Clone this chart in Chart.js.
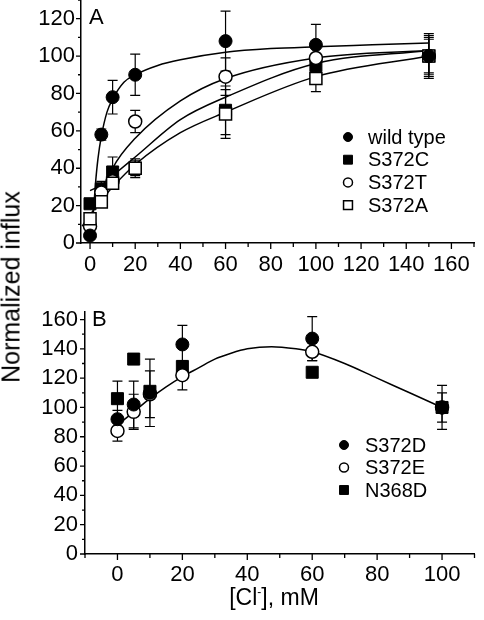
<!DOCTYPE html>
<html>
<head>
<meta charset="utf-8">
<script src="https://cdn.jsdelivr.net/npm/chart.js@4.4.0/dist/chart.umd.min.js"></script>
<style>
html, body { margin: 0; padding: 0; background: #fff; }
body { width: 484px; height: 620px; position: relative; overflow: hidden; font-family: "Liberation Sans", Arial, sans-serif; color: #000; }
canvas { position: absolute; left: 0; }
#chartA { top: -20px; }
#chartB { top: 292px; }
.lbl { position: absolute; line-height: 1; white-space: nowrap; }
#ytitle { left: 11px; top: 287px; font-size: 25px; transform: translate(-50%, -50%) rotate(-90deg); }
#xtitle { left: 274px; top: 586px; font-size: 23px; transform: translateX(-50%); }
#xtitle sup { font-size: 12px; vertical-align: 9px; line-height: 0; }
</style>
</head>
<body>
<canvas id="chartA" width="484" height="300"></canvas>
<canvas id="chartB" width="484" height="328"></canvas>
<div class="lbl" style="left:89px;top:6px;font-size:22px">A</div>
<div class="lbl" style="left:92px;top:308px;font-size:22px">B</div>
<div class="lbl" id="ytitle">Normalized influx</div>
<div class="lbl" id="xtitle">[Cl<sup>-</sup>], mM</div>
<script>
// ---- panel A: [Cl-] (mM) vs normalized influx ----
const clA = [0, 5, 10, 20, 60, 100, 150];
const wildType = [4, 58, 78, 90, 108, 106, 100];
const wildTypeErr = [2, 3, 9, 11, 16, 11, 11];
const s372C = [21, 29, 38, 40, 71, 95, 100];
const s372CErr = [2, 4, 8, 4, 13, 6, 10];
const s372T = [9, 27, 33, 65, 89, 99, 100];
const s372TErr = [3, 4, 4, 6, 10, 7, 9];
const s372A = [13, 22, 32, 40, 69, 88, 100];
const s372AErr = [3, 3, 3, 5, 13, 7, 12];

// fitted curves
const wtFitX = [0.8, 1.5, 2.5, 3.5, 5, 7.5, 10, 15, 20, 30, 40, 60, 80, 100, 125, 150];
const wtFitY = [4, 17, 33, 45, 57, 70, 77, 86, 90, 95, 98, 102, 104, 105, 106, 107];
const tFitX = [9, 10, 20, 40, 60, 100, 150];
const tFitY = [37, 40, 56, 76, 88, 99, 103];
const cFitX = [0, 5, 10, 20, 40, 60, 100, 150];
const cFitY = [28, 31, 36, 46, 66, 78, 96, 103];
const aFitX = [-3.5, 0, 5, 10, 20, 40, 60, 100, 150];
const aFitY = [9, 15, 23, 30, 42, 59, 70, 89, 100];

// ---- panel B ----
const clB = [0, 5, 10, 20, 60, 100];
const s372D = [92, 102, 110, 143, 147, 100];
const s372DErr = [6, 16, 23, 13, 15, 15];
const s372E = [84, 97, 109, 122, 138, 100];
const s372EErr = [7, 12, 16, 10, 6, 10];
const n368D = [106, 133, 111, 128, 124, 100];
const n368DErr = [12, 0, 0, 0, 0, 0];
const bFitX = [0, 5, 10, 15, 20, 25, 30, 35, 40, 47.5, 55, 60, 70, 80, 90, 100];
const bFitY = [88, 97, 106, 114, 121, 127, 133, 137, 140, 141.5, 140, 138, 130, 120, 110, 100];

const FONT = '"Liberation Sans", Arial, sans-serif';

function pts(xs, ys) {
    return xs.map((x, i) => ({ x: x, y: ys[i] }));
}

function markers(label, xs, ys, errs, style, filled, legendIndex) {
    const rect = style === 'rect';
    return {
        label: label,
        data: pts(xs, ys),
        errors: errs,
        legendIndex: legendIndex,
        showLine: false,
        pointStyle: style,
        pointRadius: rect ? 8.5 : 6.5,
        pointHoverRadius: rect ? 8.5 : 6.5,
        pointBackgroundColor: filled ? '#000' : '#fff',
        pointBorderColor: '#000',
        pointBorderWidth: filled ? 1 : 1.5
    };
}

function curve(xs, ys) {
    return {
        data: pts(xs, ys),
        showLine: true,
        pointRadius: 0,
        borderColor: '#000',
        borderWidth: 1.5,
        cubicInterpolationMode: 'monotone',
        fill: false
    };
}

// error bars under the markers
const errorBars = {
    id: 'errorBars',
    beforeDatasetsDraw(chart) {
        const ctx = chart.ctx;
        const xs = chart.scales.x, ys = chart.scales.y;
        ctx.save();
        ctx.strokeStyle = '#000';
        ctx.lineWidth = 1.2;
        chart.data.datasets.forEach(ds => {
            if (!ds.errors) return;
            ds.data.forEach((p, i) => {
                const e = ds.errors[i];
                if (!e) return;
                const px = xs.getPixelForValue(p.x);
                const top = ys.getPixelForValue(p.y + e);
                const bot = ys.getPixelForValue(p.y - e);
                ctx.beginPath();
                ctx.moveTo(px, top); ctx.lineTo(px, bot);
                ctx.moveTo(px - 5, top); ctx.lineTo(px + 5, top);
                ctx.moveTo(px - 5, bot); ctx.lineTo(px + 5, bot);
                ctx.stroke();
            });
        });
        ctx.restore();
    }
};

// outward major/minor tick marks
const axisTicks = {
    id: 'axisTicks',
    afterDraw(chart) {
        const ctx = chart.ctx;
        const area = chart.chartArea;
        ctx.save();
        ctx.strokeStyle = '#000';
        ctx.lineWidth = 1.3;
        ctx.beginPath();
        chart.scales.x.ticks.forEach(t => {
            const len = t.value % 20 === 0 ? 6 : 4;
            const px = chart.scales.x.getPixelForValue(t.value);
            ctx.moveTo(px, area.bottom); ctx.lineTo(px, area.bottom + len);
        });
        chart.scales.y.ticks.forEach(t => {
            const len = t.value % 20 === 0 ? 5 : 3;
            const py = chart.scales.y.getPixelForValue(t.value);
            ctx.moveTo(area.left - len, py); ctx.lineTo(area.left, py);
        });
        ctx.stroke();
        ctx.restore();
    }
};

const panelLegend = {
    id: 'panelLegend',
    afterDraw(chart, args, opts) {
        const ctx = chart.ctx;
        ctx.save();
        ctx.font = '20px ' + FONT;
        ctx.textBaseline = 'middle';
        ctx.fillStyle = '#000';
        chart.data.datasets.forEach(ds => {
            if (ds.legendIndex === undefined) return;
            const y = opts.top + ds.legendIndex * opts.rowHeight;
            ctx.fillStyle = ds.pointBackgroundColor;
            ctx.strokeStyle = '#000';
            ctx.lineWidth = ds.pointBorderWidth;
            Chart.helpers.drawPoint(ctx, {
                pointStyle: ds.pointStyle,
                radius: ds.pointStyle === 'rect' ? 6.3 : 4.5,
                rotation: 0,
                borderWidth: ds.pointBorderWidth
            }, opts.markerX, y);
            ctx.fillStyle = '#000';
            ctx.fillText(ds.label, opts.textX, y + 1);
        });
        ctx.restore();
    }
};

function scales(xmin, xmax, xlast, ymax, ylast, yWidth, xHeight, xPad, yPad) {
    const tickFont = { family: FONT, size: 22 };
    return {
        x: {
            type: 'linear', min: xmin, max: xmax,
            grid: { display: false, drawTicks: false },
            border: { display: true, color: '#000', width: 1.5 },
            ticks: {
                stepSize: 10, includeBounds: false, autoSkip: false, maxRotation: 0,
                font: tickFont, color: '#000', padding: xPad,
                callback: v => (v % 20 === 0 && v >= 0 && v <= xlast) ? v : ''
            },
            afterFit: s => { s.height = xHeight; }
        },
        y: {
            type: 'linear', min: 0, max: ymax,
            grid: { display: false, drawTicks: false },
            border: { display: true, color: '#000', width: 1.5 },
            ticks: {
                stepSize: 10, includeBounds: false, autoSkip: false,
                font: tickFont, color: '#000', padding: yPad,
                callback: v => (v % 20 === 0 && v <= ylast) ? v : ''
            },
            afterFit: s => { s.width = yWidth; }
        }
    };
}

new Chart(document.getElementById('chartA'), {
    type: 'scatter',
    data: {
        datasets: [
            markers('wild type', clA, wildType, wildTypeErr, 'circle', true, 0),
            markers('S372A', clA, s372A, s372AErr, 'rect', false, 3),
            markers('S372T', clA, s372T, s372TErr, 'circle', false, 2),
            markers('S372C', clA, s372C, s372CErr, 'rect', true, 1),
            curve(wtFitX, wtFitY),
            curve(tFitX, tFitY),
            curve(cFitX, cFitY),
            curve(aFitX, aFitY)
        ]
    },
    options: {
        responsive: false,
        animation: false,
        layout: { padding: { top: 20, left: 0, right: 1, bottom: 0 } },
        scales: scales(-4, 170, 160, 130, 120, 81, 37, 9, 6),
        plugins: {
            legend: { display: false },
            tooltip: { enabled: false },
            panelLegend: { top: 157, rowHeight: 22.7, markerX: 348, textX: 368 }
        }
    },
    plugins: [errorBars, axisTicks, panelLegend]
});

new Chart(document.getElementById('chartB'), {
    type: 'scatter',
    data: {
        datasets: [
            markers('S372D', clB, s372D, s372DErr, 'circle', true, 0),
            markers('S372E', clB, s372E, s372EErr, 'circle', false, 1),
            markers('N368D', clB, n368D, n368DErr, 'rect', true, 2),
            curve(bFitX, bFitY)
        ]
    },
    options: {
        responsive: false,
        animation: false,
        layout: { padding: { top: 20, left: 0, right: 1, bottom: 0 } },
        scales: scales(-10, 110, 100, 165, 160, 85, 66, 8, 7),
        plugins: {
            legend: { display: false },
            tooltip: { enabled: false },
            panelLegend: { top: 153, rowHeight: 22.5, markerX: 344, textX: 365 }
        }
    },
    plugins: [errorBars, axisTicks, panelLegend]
});
</script>
</body>
</html>
